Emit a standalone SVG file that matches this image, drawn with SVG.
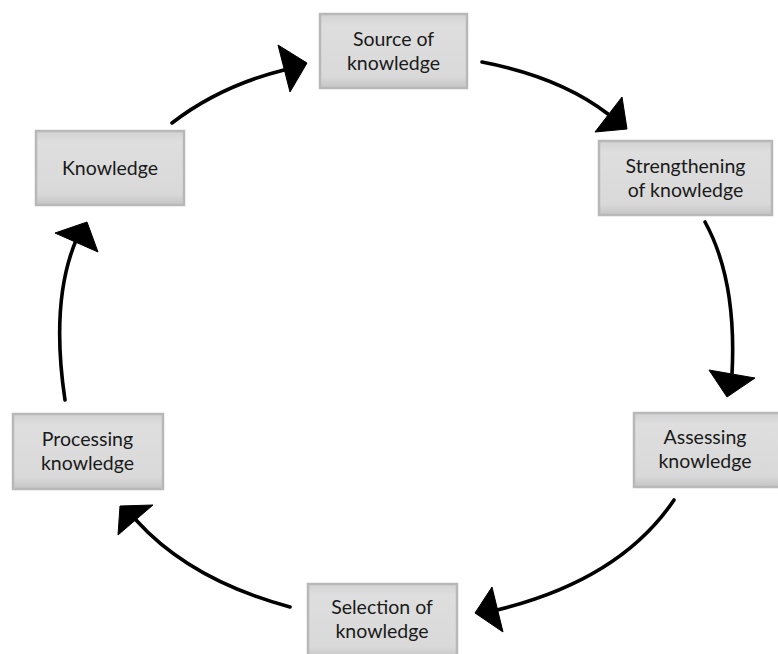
<svg xmlns="http://www.w3.org/2000/svg" width="778" height="654" viewBox="0 0 778 654">
  <defs>
    <linearGradient id="boxg" x1="0" y1="0" x2="0" y2="1">
      <stop offset="0" stop-color="#d2d2d2"/>
      <stop offset="0.15" stop-color="#dedede"/>
      <stop offset="0.85" stop-color="#d9d9d9"/>
      <stop offset="1" stop-color="#c4c4c4"/>
    </linearGradient>
  </defs>
  <style>
    .box { fill: url(#boxg); stroke: #b8b8b8; stroke-width: 2.5; }
    .lbl { font-family: Lato, "Open Sans", "Liberation Sans", sans-serif; font-size: 19.5px; fill: #1a1a1a; text-anchor: middle; }
    .conn { fill: none; stroke: #000; stroke-width: 3.6; stroke-linecap: round; }
    .head { fill: #000; stroke: #000; stroke-width: 1; stroke-linejoin: round; }
  </style>
  <rect width="778" height="654" fill="#ffffff"/>

  <g id="connectors">
    <path class="conn" d="M172,123 Q220,86 284,70"/>
    <polygon class="head" points="278,45 307,63 290,92"/>
    <path class="conn" d="M482,62 Q560,77 608,114"/>
    <polygon class="head" points="622,97 627,129 595,132"/>
    <path class="conn" d="M705,222 Q737,280 732,374"/>
    <polygon class="head" points="709,370 755,378 727,397"/>
    <path class="conn" d="M674,500 Q620,580 497,610"/>
    <polygon class="head" points="492,587 475,613 503,632"/>
    <path class="conn" d="M290,607 Q190,580 136,520"/>
    <polygon class="head" points="120,506 153,505 118,535"/>
    <path class="conn" d="M65,400 Q50,300 77,238"/>
    <polygon class="head" points="55,233 87,222 98,252"/>
  </g>

  <g id="source">
    <rect class="box" x="320" y="14" width="147" height="74"/>
    <text class="lbl" x="393.5" y="46">Source of</text>
    <text class="lbl" x="393.5" y="70">knowledge</text>
  </g>
  <g id="strengthening">
    <rect class="box" x="599" y="141" width="173" height="74"/>
    <text class="lbl" x="685.5" y="173">Strengthening</text>
    <text class="lbl" x="685.5" y="197">of knowledge</text>
  </g>
  <g id="knowledge">
    <rect class="box" x="36" y="131" width="148" height="74"/>
    <text class="lbl" x="110" y="175">Knowledge</text>
  </g>
  <g id="assessing">
    <rect class="box" x="634" y="413" width="146" height="74"/>
    <text class="lbl" x="705" y="444">Assessing</text>
    <text class="lbl" x="705" y="468">knowledge</text>
  </g>
  <g id="processing">
    <rect class="box" x="13" y="414" width="150" height="75"/>
    <text class="lbl" x="87.5" y="446">Processing</text>
    <text class="lbl" x="87.5" y="470">knowledge</text>
  </g>
  <g id="selection">
    <rect class="box" x="308" y="584" width="149" height="74"/>
    <text class="lbl" x="382" y="614">Selection of</text>
    <text class="lbl" x="382" y="638">knowledge</text>
  </g>
</svg>
